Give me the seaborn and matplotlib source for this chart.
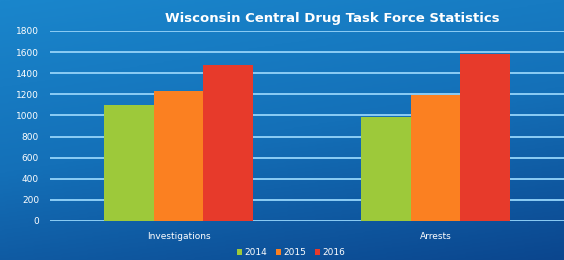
import numpy as np
import pandas as pd
import matplotlib
matplotlib.use('Agg')
import matplotlib.pyplot as plt
import seaborn as sns
from matplotlib.colors import LinearSegmentedColormap

# data
categories = ['Investigations', 'Arrests']
years = ['2014', '2015', '2016']
vals_2014 = [1100, 985]
vals_2015 = [1235, 1195]
vals_2016 = [1475, 1580]

df = pd.DataFrame({
    'category': categories * 3,
    'year': [y for y in years for _ in categories],
    'value': vals_2014 + vals_2015 + vals_2016,
})

colors = ['#9dc93a', '#fb8021', '#e73a2b']

sns.set_theme(style='white')
plt.rcParams['font.family'] = ['DejaVu Sans']

fig = plt.figure(figsize=(5.64, 2.6), dpi=100)

# blue gradient background
bg = fig.add_axes([0, 0, 1, 1], zorder=-1)
yy, xx = np.mgrid[0:1:200j, 0:1:200j]
grad = 0.75 * yy + 0.25 * xx
cmap = LinearSegmentedColormap.from_list('bg', ['#1a86cc', '#1470b8', '#0b468e'])
bg.imshow(grad, cmap=cmap, aspect='auto', extent=[0, 1, 0, 1], origin='upper')
bg.set_axis_off()

ax = fig.add_axes([0.089, 0.15, 0.911, 0.731])
ax.set_facecolor('none')
sns.barplot(data=df, x='category', y='value', hue='year', palette=colors,
            width=0.58, gap=0, saturation=1, linewidth=0, ax=ax, zorder=3, legend=True)

ax.set_ylim(0, 1800)
ax.set_xlim(-0.5, 1.5)
ax.set_yticks(range(0, 1801, 200))
ax.yaxis.grid(True, color='#8ccdf5', linewidth=1.4, zorder=0)
ax.set_axisbelow(True)
for s in ax.spines.values():
    s.set_visible(False)
ax.set_xlabel('')
ax.set_ylabel('')
ax.tick_params(axis='y', colors='white', labelsize=6.5, length=0, pad=8)
ax.tick_params(axis='x', colors='white', labelsize=6.5, length=0, pad=8)

leg = ax.legend(loc='lower center', bbox_to_anchor=(0.516, -0.02), bbox_transform=fig.transFigure,
                ncol=3, frameon=False, fontsize=6.5, handlelength=0.6, handleheight=0.6,
                handletextpad=0.2, columnspacing=1.0)
for t in leg.get_texts():
    t.set_color('white')

fig.text(0.589, 0.93, 'Wisconsin Central Drug Task Force Statistics', color='white',
         fontsize=9.5, ha='center', va='center', fontweight='bold')

fig.savefig('out.png', dpi=100)
